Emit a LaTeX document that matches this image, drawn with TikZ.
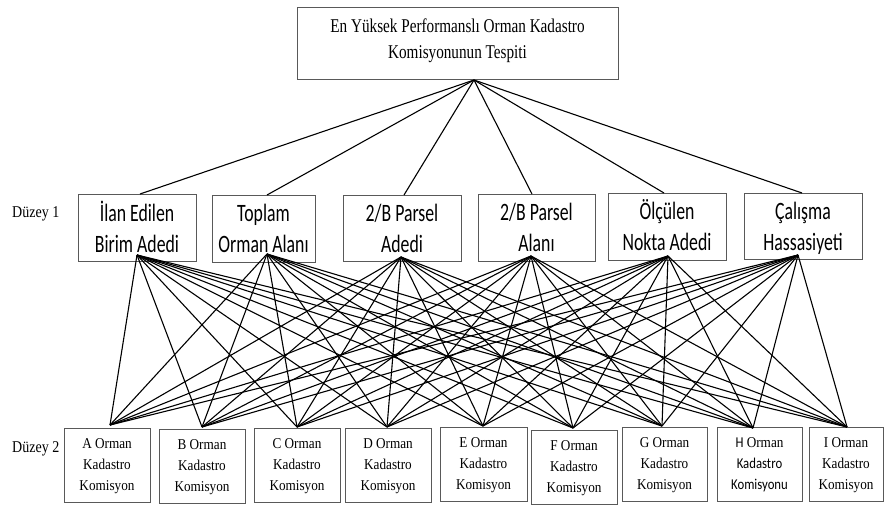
\documentclass[tikz,border=0pt]{standalone}
\usepackage{fontspec}
\setmainfont{Liberation Serif}
\newfontfamily\rootfont[FakeStretch=0.78]{Liberation Serif}
\newfontfamily\critfont[FakeStretch=0.71]{Carlito}
\newfontfamily\altfont[FakeStretch=0.88]{Liberation Serif}
\newfontfamily\altsans[FakeStretch=0.85]{Carlito}
\newfontfamily\lvlfont[FakeStretch=0.85]{Liberation Serif}
\begin{document}
\begin{tikzpicture}[x=1pt,y=-1pt,
  box/.style={draw=black!65, line width=0.9pt, inner sep=0pt, align=center},
  rootbox/.style={box, minimum width=321pt, minimum height=72pt, text height=30pt, text depth=0pt,
    font=\rootfont\fontsize{19.5}{26}\selectfont},
  critbox/.style={box, minimum height=67pt, text height=48pt, text depth=0pt,
    font=\critfont\fontsize{25}{31}\selectfont},
  altbox/.style={box, minimum width=86pt, minimum height=74pt, text height=50pt, text depth=0pt,
    font=\altfont\fontsize{15}{21}\selectfont},
  lvl/.style={font=\lvlfont\fontsize{16.5}{18}\selectfont, inner sep=0pt, anchor=base west},
  link/.style={line width=1.1pt, black}]
\useasboundingbox (0,0) rectangle (885,504);

% root
\node[rootbox] (root) at (457.5,43) {En Yüksek Performanslı Orman Kadastro\\Komisyonunun Tespiti};

% level labels
\node[lvl] (l1) at (12,217) {Düzey 1};
\node[lvl] (l2) at (12,452) {Düzey 2};

% level 1
\node[critbox, minimum width=118pt] (c1) at (137,228) {İlan Edilen\\Birim Adedi};
\node[critbox, minimum width=103pt] (c2) at (263.5,228.5) {Toplam\\Orman Alanı};
\node[critbox, minimum width=118pt, minimum height=66pt] (c3) at (402,228) {2/B Parsel\\Adedi};
\node[critbox, minimum width=117pt] (c4) at (536.5,227.5) {2/B Parsel\\Alanı};
\node[critbox, minimum width=118pt] (c5) at (667,226.5) {Ölçülen\\Nokta Adedi};
\node[critbox, minimum width=118pt, minimum height=66pt] (c6) at (803,226) {Çalışma\\Hassasiyeti};

% level 2
\node[altbox] (a1) at (107,465) {A Orman\\Kadastro\\Komisyon};
\node[altbox] (a2) at (202,466) {B Orman\\Kadastro\\Komisyon};
\node[altbox] (a3) at (297,465) {C Orman\\Kadastro\\Komisyon};
\node[altbox] (a4) at (388,465) {D Orman\\Kadastro\\Komisyon};
\node[altbox, minimum width=87pt] (a5) at (483.5,464.5) {E Orman\\Kadastro\\Komisyon};
\node[altbox] (a6) at (574,467) {F Orman\\Kadastro\\Komisyon};
\node[altbox, minimum width=85pt] (a7) at (664.5,464.5) {G Orman\\Kadastro\\Komisyon};
\node[altbox, minimum width=85pt] (a8) at (759.5,464) {{\altsans H} Orman\\{\altsans Kadastro}\\{\altsans Komisyonu}};
\node[altbox, minimum width=74pt] (a9) at (846,464) {I Orman\\Kadastro\\Komisyon};

% connector end points
\coordinate (rb) at (474,80);
\coordinate (t1) at (140,194);
\coordinate (t2) at (267,195);
\coordinate (t3) at (404,195);
\coordinate (t4) at (532,194);
\coordinate (t5) at (664,193);
\coordinate (t6) at (802,193);
\coordinate (d1) at (137,255);
\coordinate (d2) at (267,254);
\coordinate (d3) at (401,257);
\coordinate (d4) at (531,256);
\coordinate (d5) at (668,256);
\coordinate (d6) at (798,255);
\coordinate (u1) at (110,425);
\coordinate (u2) at (202,427);
\coordinate (u3) at (297,427);
\coordinate (u4) at (387,427);
\coordinate (u5) at (483,426);
\coordinate (u6) at (573,428);
\coordinate (u7) at (662,426);
\coordinate (u8) at (753,428);
\coordinate (u9) at (847,427);

\foreach \i in {1,...,6} {
  \draw[link] (rb) -- (t\i);
  \foreach \j in {1,...,9} {
    \draw[link] (d\i) -- (u\j);
  }
}
\end{tikzpicture}
\end{document}
